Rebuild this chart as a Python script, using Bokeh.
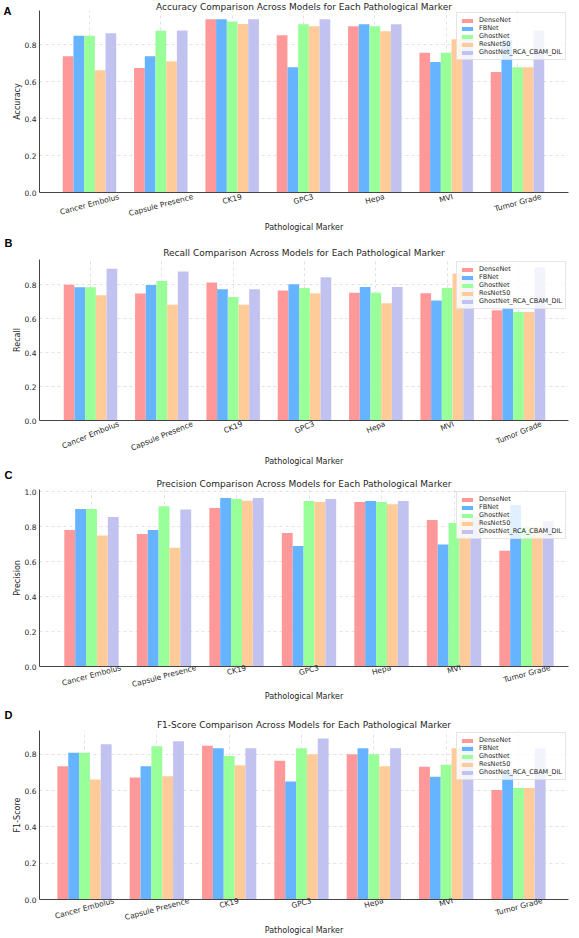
import numpy as np
from bokeh.plotting import figure
from bokeh.models import (Range1d, FixedTicker, NumeralTickFormatter, Legend, LegendItem,
                          Title, LinearAxis, CustomJSTickFormatter)
from bokeh.layouts import column
from bokeh.embed import file_html
from bokeh.resources import INLINE

markers = ["Cancer Embolus", "Capsule Presence", "CK19", "GPC3", "Hepa", "MVI", "Tumor Grade"]
models = ["DenseNet", "FBNet", "GhostNet", "ResNet50", "GhostNet_RCA_CBAM_DIL"]
colors = ["#ff9999", "#66b3ff", "#99ff99", "#ffcc99", "#c2c2f0"]

# one row per model, one column per marker
accuracy = [
    [0.737, 0.673, 0.937, 0.850, 0.899, 0.755, 0.652],
    [0.848, 0.737, 0.937, 0.677, 0.910, 0.706, 0.823],
    [0.848, 0.874, 0.924, 0.910, 0.899, 0.755, 0.677],
    [0.661, 0.709, 0.911, 0.899, 0.872, 0.829, 0.677],
    [0.861, 0.876, 0.937, 0.937, 0.910, 0.853, 0.874],
]
recall = [
    [0.800, 0.748, 0.812, 0.765, 0.753, 0.750, 0.649],
    [0.785, 0.798, 0.773, 0.802, 0.786, 0.707, 0.664],
    [0.785, 0.821, 0.727, 0.781, 0.753, 0.781, 0.639],
    [0.738, 0.681, 0.681, 0.750, 0.691, 0.866, 0.639],
    [0.894, 0.877, 0.773, 0.844, 0.786, 0.840, 0.903],
]
precision = [
    [0.782, 0.759, 0.908, 0.765, 0.943, 0.840, 0.663],
    [0.902, 0.782, 0.966, 0.690, 0.949, 0.699, 0.925],
    [0.902, 0.918, 0.960, 0.949, 0.943, 0.823, 0.800],
    [0.751, 0.681, 0.950, 0.943, 0.930, 0.840, 0.800],
    [0.856, 0.899, 0.966, 0.960, 0.949, 0.860, 0.834],
]
f1_score = [
    [0.735, 0.673, 0.847, 0.764, 0.800, 0.731, 0.604],
    [0.809, 0.735, 0.833, 0.650, 0.833, 0.677, 0.700],
    [0.809, 0.845, 0.791, 0.833, 0.800, 0.742, 0.615],
    [0.661, 0.679, 0.740, 0.800, 0.735, 0.833, 0.615],
    [0.856, 0.872, 0.833, 0.887, 0.833, 0.850, 0.833],
]

FONT = "DejaVu Sans"
TEXT = "#262626"
W = 579
LEFT, RIGHT = 39, 568   # plot frames share these edges in the column
TICK_FS = 7.5

# DejaVu Sans advance widths (em) used to centre the slanted marker names
_ADV = {" ": 0.318, "C": 0.698, "a": 0.613, "n": 0.634, "c": 0.550, "e": 0.615,
        "r": 0.411, "E": 0.632, "m": 0.974, "b": 0.635, "o": 0.612, "l": 0.278,
        "u": 0.634, "s": 0.521, "p": 0.635, "P": 0.603, "K": 0.656, "1": 0.636,
        "9": 0.636, "3": 0.636, "G": 0.775, "H": 0.752, "M": 0.863, "V": 0.684,
        "I": 0.295, "T": 0.611, "d": 0.635, "t": 0.392}


def text_width(s, fs):
    return sum(_ADV.get(ch, 0.6) for ch in s) * fs


def make_panel(letter, metric, values, height, top, bottom, first_px, step_px, angle,
               tick_pad, xlabel_pad, title_standoff, letter_standoff, letter_on_axis=False):
    ymax = max(max(row) for row in values) * 1.05
    bar_w = 0.15
    n = len(markers)
    x = np.arange(n)
    # horizontal extent: first group centred at first_px on the canvas, groups step_px apart
    x0 = (LEFT - first_px) / step_px
    x1 = (RIGHT - first_px) / step_px
    p = figure(width=W, height=height, output_backend="svg", toolbar_location=None,
               x_range=Range1d(x0, x1), y_range=Range1d(0, ymax),
               min_border_left=LEFT, min_border_right=W - RIGHT,
               min_border_top=top, min_border_bottom=height - bottom,
               title=None)
    p.outline_line_color = None

    items = []
    for j, (model, color) in enumerate(zip(models, colors)):
        r = p.vbar(x=x + (j - 2) * bar_w, top=values[j], width=bar_w,
                   fill_color=color, line_color=None)
        items.append(LegendItem(label=model, renderers=[r]))

    # x axis: slanted names, each anchored so that it is centred on its group
    th = np.radians(angle)
    anchors = [i + 0.5 * text_width(m, TICK_FS) * np.cos(th) / step_px
               for i, m in enumerate(markers)]
    xax = p.xaxis[0]
    xax.ticker = FixedTicker(ticks=anchors)
    xax.formatter = CustomJSTickFormatter(args=dict(names=markers), code="return names[index];")
    xax.major_label_orientation = th
    xax.major_label_standoff = tick_pad
    xax.major_label_text_font_size = f"{TICK_FS}px"
    xax.major_label_text_font = FONT
    xax.major_label_text_color = TEXT
    xax.major_tick_out = 0
    xax.major_tick_in = 0
    xax.minor_tick_line_color = None
    xax.axis_line_color = "#444444"
    xax.axis_label = "Pathological Marker"
    xax.axis_label_text_font = FONT
    xax.axis_label_text_font_size = "8px"
    xax.axis_label_text_font_style = "normal"
    xax.axis_label_text_color = TEXT
    xax.axis_label_standoff = xlabel_pad

    yax = p.yaxis[0]
    yax.ticker = FixedTicker(ticks=[0, 0.2, 0.4, 0.6, 0.8, 1.0])
    yax.formatter = NumeralTickFormatter(format="0.0")
    yax.major_tick_out = 0
    yax.major_tick_in = 0
    yax.minor_tick_line_color = None
    yax.major_label_standoff = 3
    yax.major_label_text_font_size = "7.5px"
    yax.major_label_text_font = FONT
    yax.major_label_text_color = TEXT
    yax.axis_line_color = "#444444"
    yax.axis_label = metric
    yax.axis_label_text_font = FONT
    yax.axis_label_text_font_size = "8px"
    yax.axis_label_text_font_style = "normal"
    yax.axis_label_text_color = TEXT
    yax.axis_label_standoff = 0

    p.xgrid.ticker = FixedTicker(ticks=list(range(n)))
    for g in (p.xgrid, p.ygrid):
        g.grid_line_color = "#d4d4d4"
        g.grid_line_dash = "3 3"
        g.grid_line_width = 0.7

    p.add_layout(Title(text=f"{metric} Comparison Across Models for Each Pathological Marker",
                       align="center", text_font=FONT, text_font_size="9px",
                       text_font_style="normal", text_color=TEXT,
                       standoff=title_standoff), "above")

    if letter_on_axis:
        lax = LinearAxis(ticker=FixedTicker(ticks=[ymax * 0.9999]),
                         formatter=CustomJSTickFormatter(args=dict(t=letter), code="return t;"),
                         axis_line_color=None, major_tick_line_color=None,
                         minor_tick_line_color=None, major_label_standoff=-8,
                         major_label_orientation="horizontal",
                         major_label_text_font="Liberation Sans",
                         major_label_text_font_style="bold",
                         major_label_text_font_size="11px",
                         major_label_text_color="black")
        p.add_layout(lax, "left")
    else:
        p.add_layout(Title(text=letter, align="left", offset=4 - LEFT,
                           text_font="Liberation Sans", text_font_size="11px",
                           text_font_style="bold", text_color="black",
                           standoff=letter_standoff), "above")

    leg = Legend(items=items, location="top_right", label_text_font_size="6.5px",
                 label_text_font=FONT, label_text_color=TEXT,
                 glyph_width=14, glyph_height=5, label_height=8, label_standoff=5,
                 spacing=0, padding=3, margin=2, border_line_color="#cccccc",
                 border_line_width=0.8, background_fill_alpha=0.8)
    p.add_layout(leg)
    return p


pA = make_panel("A", "Accuracy", accuracy, 236, 10, 192, 89, 71.33, 15, 4, -2, -2.5, 0,
                letter_on_axis=True)
pB = make_panel("B", "Recall", recall, 232, 23, 185, 90, 71.33, 22, 3, -3, 2.5, -8.8)
pC = make_panel("C", "Precision", precision, 238, 21, 198, 91, 72.5, 15, 1, -4, 0.5, -8.8)
pD = make_panel("D", "F1-Score", f1_score, 232, 24, 196, 84, 72.33, 15, 1, -3, 0.5, -6.8)

layout = column(pA, pB, pC, pD, spacing=0)
open("out.html", "w").write(file_html(layout, INLINE))
